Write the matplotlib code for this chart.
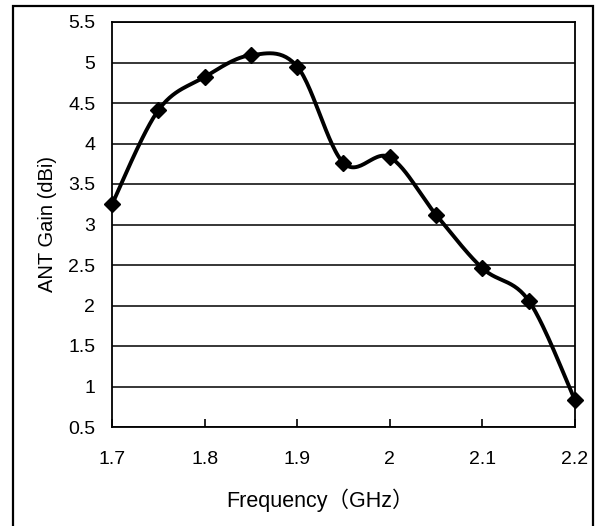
import matplotlib
matplotlib.use("Agg")
import matplotlib.pyplot as plt
from matplotlib.patches import Rectangle
import numpy as np

plt.rcParams['font.family'] = ['Liberation Sans', 'Noto Sans CJK JP', 'DejaVu Sans']

freq = [1.7, 1.75, 1.8, 1.85, 1.9, 1.95, 2.0, 2.05, 2.1, 2.15, 2.2]
gain = [3.25, 4.41, 4.82, 5.09, 4.95, 3.76, 3.83, 3.12, 2.46, 2.06, 0.83]
yticks = [0.5, 1, 1.5, 2, 2.5, 3, 3.5, 4, 4.5, 5, 5.5]
ytick_labels = ['0.5', '1', '1.5', '2', '2.5', '3', '3.5', '4', '4.5', '5', '5.5']
xticks = [1.7, 1.8, 1.9, 2.0, 2.1, 2.2]
xtick_labels = ['1.7', '1.8', '1.9', '2', '2.1', '2.2']


def smooth(x, y, n=30):
    # excel-like smoothed line: catmull-rom through the points
    x = np.asarray(x, float)
    y = np.asarray(y, float)
    px = np.concatenate([[x[0]], x, [x[-1]]])
    py = np.concatenate([[y[0]], y, [y[-1]]])
    sx, sy = [], []
    t = np.linspace(0, 1, n)
    for i in range(1, len(px) - 2):
        b0x, b0y = px[i], py[i]
        b3x, b3y = px[i + 1], py[i + 1]
        b1x = b0x + (px[i + 1] - px[i - 1]) / 6
        b1y = b0y + (py[i + 1] - py[i - 1]) / 6
        b2x = b3x - (px[i + 2] - px[i]) / 6
        b2y = b3y - (py[i + 2] - py[i]) / 6
        sx.extend((1 - t) ** 3 * b0x + 3 * (1 - t) ** 2 * t * b1x + 3 * (1 - t) * t ** 2 * b2x + t ** 3 * b3x)
        sy.extend((1 - t) ** 3 * b0y + 3 * (1 - t) ** 2 * t * b1y + 3 * (1 - t) * t ** 2 * b2y + t ** 3 * b3y)
    return sx, sy


fig = plt.figure(figsize=(6.03, 5.26), dpi=100)
fig.patches.append(Rectangle((13 / 603, -0.05), 580 / 603, 1.05 - 6 / 526, transform=fig.transFigure,
                             fill=False, edgecolor='black', linewidth=1.6))

ax = fig.add_axes([112 / 603, 1 - 427 / 526, 463 / 603, 405 / 526])
sx, sy = smooth(freq, gain)
ax.plot(sx, sy, color='black', linewidth=2.8, clip_on=False, zorder=3)
ax.plot(freq, gain, linestyle='none', marker='D', markersize=8, color='black', clip_on=False, zorder=4)

ax.set_xlim(1.7, 2.2)
ax.set_ylim(0.5, 5.5)
ax.set_xticks(xticks)
ax.set_xticklabels(xtick_labels)
ax.set_yticks(yticks)
ax.set_yticklabels(ytick_labels)
ax.yaxis.grid(True, color='black', linewidth=1.1)
ax.set_axisbelow(True)
ax.tick_params(axis='x', direction='in', length=6, width=1.2, pad=17, labelsize=14)
ax.tick_params(axis='y', length=0, pad=12, labelsize=14)
for s in ax.spines.values():
    s.set_linewidth(1.3)

ax.set_xlabel('Frequency（GHz）', fontsize=15.5)
ax.xaxis.set_label_coords(0.449, -0.152)
ax.set_ylabel('ANT Gain (dBi)', fontsize=14.5, labelpad=8)

fig.savefig('out.png', dpi=100)
